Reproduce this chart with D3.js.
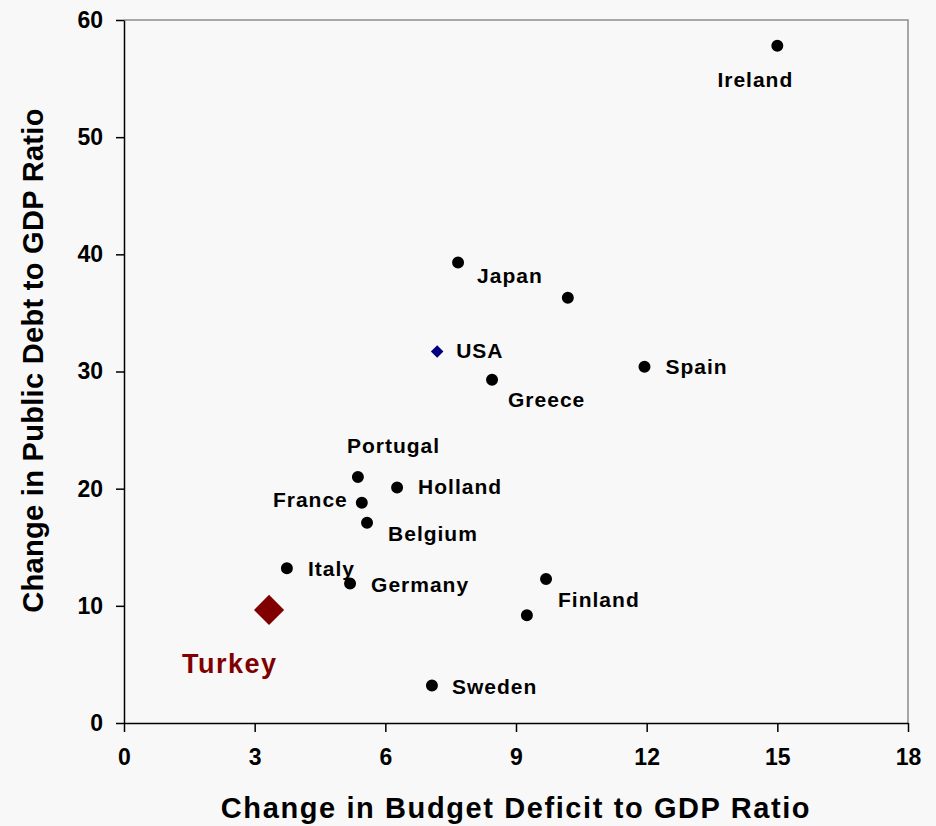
<!DOCTYPE html>
<html>
<head>
<meta charset="utf-8">
<script src="https://cdn.jsdelivr.net/npm/d3@7"></script>
<style>
  body { margin: 0; background: #f8f8f8; }
  text { font-family: Arial, "Liberation Sans", sans-serif; font-weight: bold; }
</style>
</head>
<body>
<div id="chart"></div>
<script>
// Data
const countries = ["Ireland", "Japan", "", "USA", "Greece", "Spain", "Portugal", "Holland",
                   "France", "Belgium", "Italy", "Germany", "Finland", "", "Sweden", "Turkey"];
const deficitChange = [15.0, 7.67, 10.19, 7.19, 8.45, 11.95, 5.37, 6.27,
                       5.46, 5.58, 3.74, 5.19, 9.69, 9.25, 7.07, 3.33];
const debtChange = [57.8, 39.3, 36.3, 31.7, 29.3, 30.4, 21.0, 20.1,
                    18.8, 17.1, 13.2, 11.9, 12.3, 9.2, 3.2, 9.65];
const xTicks = [0, 3, 6, 9, 12, 15, 18];
const yTicks = [0, 10, 20, 30, 40, 50, 60];

// label placement relative to the marker: [dx, dy, anchor]
const labelPos = {
  Ireland: [-22, 41, "middle"], Japan: [19, 20, "start"], USA: [19, 6, "start"],
  Greece: [16, 27, "start"], Spain: [21, 7, "start"], Portugal: [-11, -24, "start"],
  Holland: [21, 7, "start"], France: [-14, 4, "end"], Belgium: [21, 18, "start"],
  Italy: [21, 8, "start"], Germany: [21, 8, "start"], Finland: [12, 28, "start"],
  Sweden: [20, 8, "start"], Turkey: [-87, 63, "start"]
};

const margin = { top: 20, right: 28, bottom: 103, left: 124 },
      width = 936 - margin.left - margin.right,
      height = 826 - margin.top - margin.bottom;

const svg = d3.select("#chart").append("svg")
    .attr("width", 936)
    .attr("height", 826)
  .append("g")
    .attr("transform", `translate(${margin.left},${margin.top})`);

const x = d3.scaleLinear().domain([0, 18]).range([0, width]);
const y = d3.scaleLinear().domain([0, 60]).range([height, 0]);

// top and right frame
svg.append("path")
    .attr("d", `M0,0H${width}V${height}`)
    .attr("fill", "none")
    .attr("stroke", "#8c8c8c")
    .attr("stroke-width", 1.5);

// X axis
const xAxis = svg.append("g")
    .attr("transform", `translate(0,${height})`)
    .call(d3.axisBottom(x).tickValues(xTicks).tickSize(9).tickSizeOuter(0).tickPadding(17));
xAxis.selectAll("text").style("font-size", "23px").attr("fill", "#000");
xAxis.selectAll("line, path").attr("stroke", "#000").attr("stroke-width", 1.5);

// Y axis
const yAxis = svg.append("g")
    .call(d3.axisLeft(y).tickValues(yTicks).tickSize(8).tickSizeOuter(0).tickPadding(13));
yAxis.selectAll("text").style("font-size", "23px").attr("fill", "#000");
yAxis.selectAll("line, path").attr("stroke", "#000").attr("stroke-width", 1.5);

// Axis titles
svg.append("text")
    .attr("x", width / 2)
    .attr("y", height + 95)
    .attr("text-anchor", "middle")
    .style("font-size", "29px")
    .style("letter-spacing", "1.6px")
    .text("Change in Budget Deficit to GDP Ratio");

svg.append("text")
    .attr("transform", `translate(${43 - margin.left},${height / 2 - 11}) rotate(-90)`)
    .attr("text-anchor", "middle")
    .style("font-size", "29px")
    .style("letter-spacing", "0.3px")
    .text("Change in Public Debt to GDP Ratio");

const points = countries.map((c, i) => ({ name: c, dx: deficitChange[i], db: debtChange[i] }));

// Markers
const diamond = d3.symbol().type(d3.symbolDiamond2);
svg.selectAll(".pt")
    .data(points)
    .enter().append("path")
    .attr("class", "pt")
    .attr("transform", d => `translate(${x(d.dx)},${y(d.db)})`)
    .attr("d", d => d.name === "Turkey" ? diamond.size(580)() :
                    d.name === "USA" ? diamond.size(100)() :
                    d3.symbol().type(d3.symbolCircle).size(113)())
    .attr("fill", d => d.name === "Turkey" ? "#800000" : d.name === "USA" ? "#000080" : "#000");

// Labels
svg.selectAll(".lbl")
    .data(points.filter(d => d.name))
    .enter().append("text")
    .attr("class", "lbl")
    .attr("x", d => x(d.dx) + labelPos[d.name][0])
    .attr("y", d => y(d.db) + labelPos[d.name][1])
    .attr("text-anchor", d => labelPos[d.name][2])
    .style("font-size", d => d.name === "Turkey" ? "27px" : "21px")
    .style("letter-spacing", d => d.name === "Turkey" ? "1.5px" : "1px")
    .attr("fill", d => d.name === "Turkey" ? "#800000" : "#000")
    .text(d => d.name);
</script>
</body>
</html>
